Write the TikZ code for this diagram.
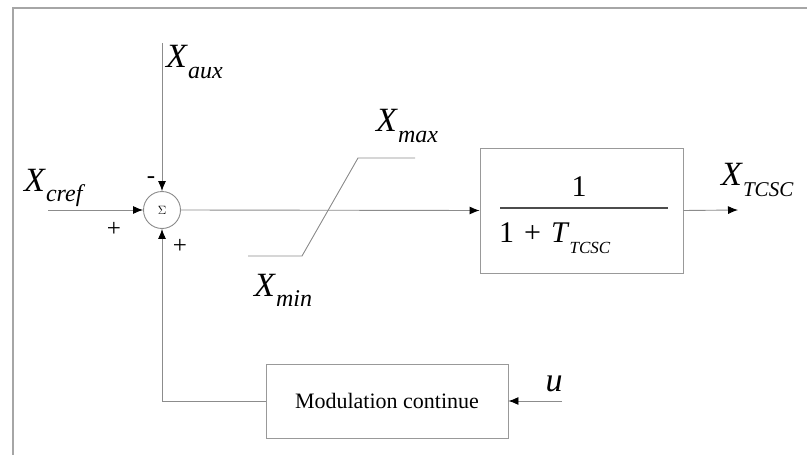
\documentclass[tikz,border=0pt]{standalone}
\usepackage{fontspec}
\setmainfont{Liberation Serif}
\usetikzlibrary{arrows.meta}
\newcommand\xlbl[2]{\textit{#1}\raisebox{-0.3em}{\fontsize{24}{24}\selectfont\textit{#2}}}
\tikzset{
  wire/.style={draw=black!45, line width=0.9pt},
  arr/.style={wire, -{Latex[length=10pt,width=8pt,black]}},
  lbl/.style={inner sep=0pt, font=\fontsize{34}{34}\selectfont},
  sgn/.style={inner sep=0pt, font=\fontsize{25}{25}\selectfont},
  blk/.style={draw=black!40, line width=0.9pt, rectangle, inner sep=0pt},
}
\begin{document}
\begin{tikzpicture}[x=1pt,y=-1pt]
\useasboundingbox (0,0) rectangle (807,455);
\fill[white] (0,0) rectangle (807,455);
% frame
\draw[black!35, line width=1.6pt] (13,470) -- (13,8) -- (820,8);
% nodes
\node[draw=black!45, line width=0.9pt, circle, minimum size=37pt, inner sep=0pt, font=\fontsize{12}{12}\selectfont] (sum) at (162,210) {$\Sigma$};
\node[blk, minimum width=203pt, minimum height=125pt] (blk) at (581.5,210.5) {};
\node[blk, minimum width=242pt, minimum height=74pt, font=\fontsize{22}{22}\selectfont] (mod) at (387,401) {Modulation continue};
\coordinate (auxtop) at (162,43);
\coordinate (crefst) at (48,210);
\coordinate (outend) at (738,210);
\coordinate (ust) at (562,401);
\coordinate (corner) at (162,401);
% fraction
\draw[black!70, line width=1.3pt] (500,208) -- (668,208);
\node[inner sep=0pt, font=\fontsize{30}{30}\selectfont] (num) at (579,187) {1};
\node[inner sep=0pt, anchor=west, font=\fontsize{30}{30}\selectfont] (den) at (499,238) {1\,\,+\,\,\textit{T}\raisebox{-0.35em}{\fontsize{17}{17}\selectfont\textit{TCSC}}};
% saturation
\draw[wire] (248,256) -- (302,256) -- (358,158) -- (415,158);
% connectors
\draw[arr] (auxtop) -- (sum.north);
\draw[arr] (crefst) -- (sum.west);
\draw[arr] (mod.west) -- (corner) -- (sum.south);
\draw[arr] (sum.east) -- (blk.west);
\draw[arr] (blk.east) -- (outend);
\draw[arr] (ust) -- (mod.east);
% labels
\node[lbl, anchor=west] (laux) at (166,62) {\xlbl{X}{aux}};
\node[lbl, anchor=west] (lcref) at (24,188) {\xlbl{X}{cref}};
\node[lbl, anchor=west] (lmax) at (376,126) {\xlbl{X}{max}};
\node[lbl, anchor=west] (lmin) at (254,290) {\xlbl{X}{min}};
\node[lbl, anchor=west] (ltcsc) at (721,180) {\textit{X}\raisebox{-0.3em}{\fontsize{21}{21}\selectfont\textit{TCSC}}};
\node[lbl] (lu) at (554,384) {\textit{u}};
\node[sgn] (p1) at (114,229) {+};
\node[sgn] (m1) at (151,180) {-};
\node[sgn] (p2) at (180,246) {+};
\end{tikzpicture}
\end{document}
